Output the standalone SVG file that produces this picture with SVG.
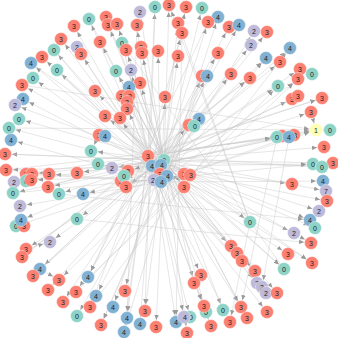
<svg xmlns="http://www.w3.org/2000/svg" width="338" height="338" viewBox="0 0 338 338">
<style>
.e line{stroke:#c6c6c6;stroke-width:0.45;fill:none;marker-end:url(#a)}
circle{stroke:#fff;stroke-width:0.4}
.r{fill:#fb8072}.t{fill:#8dd3c7}.b{fill:#80b1d3}.p{fill:#bebada}.y{fill:#ffffb3}
text{font-family:"Liberation Sans",Arial,sans-serif;font-size:7px;fill:#222;text-anchor:middle}
</style>
<defs>
<marker id="a" markerUnits="userSpaceOnUse" markerWidth="14" markerHeight="6" refX="12" refY="3" orient="auto"><path d="M0,0.8 L5,3 L0,5.2 z" fill="#9a9a9a"/></marker>
</defs>
<rect width="338" height="338" fill="#fff"/>
<g id="edges" class="e">
<line x1="148" y1="156" x2="89" y2="19"/><line x1="164" y1="160" x2="106" y2="17"/><line x1="148" y1="156" x2="74" y2="26"/><line x1="164" y1="160" x2="108" y2="25"/><line x1="148" y1="156" x2="61" y2="39"/><line x1="164" y1="160" x2="100" y2="42"/><line x1="152" y1="166" x2="77" y2="47"/><line x1="148" y1="156" x2="81" y2="54"/><line x1="152" y1="166" x2="54" y2="50"/><line x1="148" y1="156" x2="42" y2="57"/><line x1="152" y1="166" x2="31" y2="63"/><line x1="148" y1="156" x2="57" y2="70"/><line x1="152" y1="166" x2="33" y2="78"/><line x1="148" y1="156" x2="22" y2="85"/><line x1="164" y1="160" x2="95" y2="91"/><line x1="152" y1="166" x2="23" y2="99"/><line x1="148" y1="156" x2="15" y2="105"/>
<line x1="164" y1="160" x2="140" y2="12"/><line x1="148" y1="156" x2="155" y2="7"/><line x1="164" y1="160" x2="169" y2="5"/><line x1="152" y1="166" x2="186" y2="7"/><line x1="164" y1="160" x2="202" y2="8"/><line x1="167" y1="176" x2="218" y2="17"/><line x1="164" y1="160" x2="117" y2="24"/><line x1="152" y1="166" x2="137" y2="25"/><line x1="164" y1="160" x2="178" y2="23"/><line x1="148" y1="156" x2="182" y2="33"/><line x1="164" y1="160" x2="208" y2="22"/><line x1="152" y1="166" x2="122" y2="43"/><line x1="164" y1="160" x2="126" y2="50"/><line x1="167" y1="176" x2="141" y2="47"/><line x1="164" y1="160" x2="142" y2="53"/><line x1="161" y1="182" x2="158" y2="51"/><line x1="164" y1="160" x2="178" y2="56"/><line x1="152" y1="166" x2="218" y2="53"/><line x1="164" y1="160" x2="116" y2="71"/><line x1="148" y1="156" x2="131" y2="70"/><line x1="164" y1="160" x2="140" y2="83"/><line x1="152" y1="166" x2="129" y2="87"/><line x1="161" y1="182" x2="202" y2="76"/><line x1="164" y1="160" x2="207" y2="76"/><line x1="164" y1="160" x2="122" y2="96"/><line x1="152" y1="166" x2="129" y2="96"/><line x1="161" y1="182" x2="165" y2="97"/><line x1="148" y1="156" x2="127" y2="108"/><line x1="164" y1="160" x2="105" y2="116"/>
<line x1="152" y1="166" x2="229" y2="27"/><line x1="164" y1="160" x2="239" y2="25"/><line x1="161" y1="182" x2="254" y2="31"/><line x1="164" y1="160" x2="267" y2="32"/><line x1="152" y1="166" x2="251" y2="45"/><line x1="164" y1="160" x2="290" y2="48"/><line x1="161" y1="182" x2="266" y2="58"/><line x1="152" y1="166" x2="280" y2="62"/><line x1="164" y1="160" x2="231" y2="74"/><line x1="148" y1="156" x2="250" y2="78"/><line x1="164" y1="160" x2="300" y2="69"/><line x1="161" y1="182" x2="298" y2="79"/><line x1="164" y1="160" x2="278" y2="86"/><line x1="152" y1="166" x2="292" y2="99"/><line x1="164" y1="160" x2="298" y2="96"/><line x1="148" y1="156" x2="322" y2="98"/><line x1="164" y1="160" x2="311" y2="112"/>
<line x1="164" y1="160" x2="19" y2="119"/><line x1="152" y1="166" x2="9" y2="128"/><line x1="161" y1="182" x2="11" y2="140"/><line x1="164" y1="160" x2="5" y2="154"/><line x1="167" y1="176" x2="99" y2="135"/><line x1="164" y1="160" x2="91" y2="151"/><line x1="167" y1="176" x2="98" y2="164"/><line x1="164" y1="160" x2="112" y2="168"/><line x1="152" y1="166" x2="6" y2="170"/><line x1="161" y1="182" x2="26" y2="174"/><line x1="164" y1="160" x2="32" y2="174"/><line x1="167" y1="176" x2="31" y2="180"/><line x1="164" y1="160" x2="14" y2="182"/><line x1="161" y1="182" x2="49" y2="174"/><line x1="164" y1="160" x2="77" y2="173"/><line x1="152" y1="166" x2="48" y2="187"/><line x1="164" y1="160" x2="59" y2="194"/><line x1="167" y1="176" x2="83" y2="194"/><line x1="164" y1="160" x2="13" y2="193"/><line x1="161" y1="182" x2="20" y2="206"/><line x1="164" y1="160" x2="21" y2="220"/><line x1="167" y1="176" x2="16" y2="226"/><line x1="164" y1="160" x2="77" y2="219"/><line x1="161" y1="182" x2="120" y2="118"/><line x1="152" y1="166" x2="189" y2="125"/><line x1="161" y1="182" x2="199" y2="119"/><line x1="164" y1="160" x2="128" y2="171"/><line x1="164" y1="160" x2="121" y2="181"/><line x1="164" y1="160" x2="126" y2="187"/>
<line x1="152" y1="166" x2="316" y2="130"/><line x1="148" y1="156" x2="316" y2="130"/><line x1="161" y1="182" x2="316" y2="130"/><line x1="152" y1="166" x2="277" y2="137"/><line x1="148" y1="156" x2="282" y2="136"/><line x1="152" y1="166" x2="294" y2="135"/><line x1="161" y1="182" x2="289" y2="137"/><line x1="164" y1="160" x2="324" y2="147"/><line x1="152" y1="166" x2="313" y2="164"/><line x1="148" y1="156" x2="322" y2="167"/><line x1="164" y1="160" x2="333" y2="163"/><line x1="152" y1="166" x2="292" y2="184"/><line x1="161" y1="182" x2="323" y2="181"/><line x1="148" y1="156" x2="326" y2="191"/><line x1="152" y1="166" x2="327" y2="201"/><line x1="164" y1="160" x2="319" y2="211"/><line x1="148" y1="156" x2="310" y2="220"/><line x1="164" y1="160" x2="250" y2="222"/><line x1="161" y1="182" x2="184" y2="174"/><line x1="161" y1="182" x2="190" y2="175"/><line x1="164" y1="160" x2="184" y2="187"/>
<line x1="164" y1="160" x2="50" y2="242"/><line x1="164" y1="160" x2="26" y2="249"/><line x1="148" y1="156" x2="22" y2="257"/><line x1="152" y1="166" x2="40" y2="269"/><line x1="164" y1="160" x2="33" y2="276"/><line x1="167" y1="176" x2="59" y2="280"/><line x1="164" y1="160" x2="48" y2="290"/><line x1="148" y1="156" x2="88" y2="277"/><line x1="164" y1="160" x2="76" y2="292"/><line x1="152" y1="166" x2="63" y2="302"/><line x1="164" y1="160" x2="96" y2="296"/><line x1="148" y1="156" x2="90" y2="307"/><line x1="164" y1="160" x2="77" y2="316"/><line x1="167" y1="176" x2="101" y2="325"/><line x1="164" y1="160" x2="113" y2="307"/><line x1="152" y1="166" x2="125" y2="291"/><line x1="148" y1="156" x2="127" y2="318"/><line x1="164" y1="160" x2="145" y2="311"/><line x1="152" y1="166" x2="140" y2="324"/><line x1="148" y1="156" x2="124" y2="332"/><line x1="164" y1="160" x2="156" y2="327"/><line x1="152" y1="166" x2="176" y2="322"/>
<line x1="148" y1="156" x2="201" y2="275"/><line x1="164" y1="160" x2="194" y2="283"/><line x1="152" y1="166" x2="184" y2="317"/><line x1="148" y1="156" x2="190" y2="317"/><line x1="164" y1="160" x2="187" y2="333"/><line x1="152" y1="166" x2="204" y2="306"/><line x1="164" y1="160" x2="206" y2="312"/><line x1="148" y1="156" x2="211" y2="326"/><line x1="164" y1="160" x2="223" y2="310"/>
<line x1="152" y1="166" x2="294" y2="233"/><line x1="148" y1="156" x2="315" y2="228"/><line x1="164" y1="160" x2="311" y2="243"/><line x1="152" y1="166" x2="231" y2="246"/><line x1="148" y1="156" x2="237" y2="253"/><line x1="164" y1="160" x2="242" y2="261"/><line x1="152" y1="166" x2="288" y2="254"/><line x1="148" y1="156" x2="312" y2="263"/><line x1="164" y1="160" x2="284" y2="269"/><line x1="152" y1="166" x2="255" y2="271"/><line x1="148" y1="156" x2="257" y2="283"/><line x1="164" y1="160" x2="262" y2="287"/><line x1="152" y1="166" x2="266" y2="293"/><line x1="164" y1="160" x2="277" y2="293"/><line x1="148" y1="156" x2="241" y2="307"/><line x1="152" y1="166" x2="267" y2="312"/><line x1="164" y1="160" x2="247" y2="318"/><line x1="148" y1="156" x2="230" y2="322"/>
<line x1="13" y1="193" x2="313" y2="164"/><line x1="26" y1="174" x2="277" y2="137"/><line x1="57" y1="70" x2="284" y2="269"/><line x1="54" y1="50" x2="255" y2="271"/><line x1="31" y1="63" x2="312" y2="263"/><line x1="89" y1="19" x2="241" y2="307"/><line x1="22" y1="85" x2="316" y2="130"/><line x1="9" y1="128" x2="316" y2="130"/><line x1="5" y1="154" x2="322" y2="167"/><line x1="6" y1="170" x2="289" y2="137"/><line x1="48" y1="187" x2="322" y2="98"/><line x1="63" y1="302" x2="298" y2="79"/><line x1="33" y1="276" x2="266" y2="58"/><line x1="76" y1="292" x2="278" y2="86"/><line x1="90" y1="307" x2="290" y2="48"/><line x1="22" y1="257" x2="250" y2="78"/><line x1="250" y1="222" x2="178" y2="23"/><line x1="250" y1="222" x2="169" y2="5"/><line x1="284" y1="269" x2="122" y2="43"/><line x1="77" y1="219" x2="311" y2="243"/><line x1="59" y1="194" x2="310" y2="220"/><line x1="202" y1="76" x2="124" y2="332"/><line x1="218" y1="53" x2="101" y2="325"/><line x1="208" y1="22" x2="88" y2="277"/><line x1="182" y1="33" x2="176" y2="322"/><line x1="155" y1="7" x2="145" y2="311"/><line x1="137" y1="25" x2="127" y2="318"/><line x1="300" y1="69" x2="312" y2="74"/><line x1="330" y1="130" x2="316" y2="130"/><line x1="99" y1="135" x2="91" y2="151"/><line x1="257" y1="283" x2="277" y2="293"/><line x1="194" y1="283" x2="204" y2="306"/><line x1="311" y1="112" x2="316" y2="130"/><line x1="250" y1="222" x2="230" y2="322"/><line x1="26" y1="249" x2="50" y2="242"/><line x1="40" y1="269" x2="59" y2="280"/><line x1="277" y1="137" x2="241" y2="307"/><line x1="289" y1="137" x2="262" y2="287"/>
</g>
<g id="n1"><circle class="t" cx="89" cy="19" r="6.5"/><text x="89" y="21.5">0</text></g>
<g id="n2"><circle class="r" cx="106" cy="17" r="6.5"/><text x="106" y="19.5">3</text></g>
<g id="n3"><circle class="r" cx="74" cy="26" r="6.5"/><text x="74" y="28.5">3</text></g>
<g id="n4"><circle class="r" cx="108" cy="25" r="6.5"/><text x="108" y="27.5">3</text></g>
<g id="n5"><circle class="r" cx="61" cy="39" r="6.5"/><text x="61" y="41.5">3</text></g>
<g id="n6"><circle class="r" cx="100" cy="42" r="6.5"/><text x="100" y="44.5">3</text></g>
<g id="n7"><circle class="p" cx="77" cy="47" r="6.5"/><text x="77" y="49.5">2</text></g>
<g id="n8"><circle class="r" cx="81" cy="54" r="6.5"/><text x="81" y="56.5">3</text></g>
<g id="n9"><circle class="t" cx="54" cy="50" r="6.5"/><text x="54" y="52.5">0</text></g>
<g id="n10"><circle class="r" cx="42" cy="57" r="6.5"/><text x="42" y="59.5">3</text></g>
<g id="n11"><circle class="b" cx="31" cy="63" r="6.5"/><text x="31" y="65.5">4</text></g>
<g id="n12"><circle class="t" cx="57" cy="70" r="6.5"/><text x="57" y="72.5">0</text></g>
<g id="n13"><circle class="t" cx="33" cy="78" r="6.5"/><text x="33" y="80.5">0</text></g>
<g id="n14"><circle class="r" cx="22" cy="85" r="6.5"/><text x="22" y="87.5">3</text></g>
<g id="n15"><circle class="r" cx="95" cy="91" r="6.5"/><text x="95" y="93.5">3</text></g>
<g id="n16"><circle class="b" cx="23" cy="99" r="6.5"/><text x="23" y="101.5">4</text></g>
<g id="n17"><circle class="p" cx="15" cy="105" r="6.5"/><text x="15" y="107.5">2</text></g>
<g id="n18"><circle class="p" cx="140" cy="12" r="6.5"/><text x="140" y="14.5">2</text></g>
<g id="n19"><circle class="t" cx="155" cy="7" r="6.5"/><text x="155" y="9.5">0</text></g>
<g id="n20"><circle class="r" cx="169" cy="5" r="6.5"/><text x="169" y="7.5">3</text></g>
<g id="n21"><circle class="r" cx="186" cy="7" r="6.5"/><text x="186" y="9.5">3</text></g>
<g id="n22"><circle class="t" cx="202" cy="8" r="6.5"/><text x="202" y="10.5">0</text></g>
<g id="n23"><circle class="b" cx="218" cy="17" r="6.5"/><text x="218" y="19.5">4</text></g>
<g id="n24"><circle class="r" cx="117" cy="24" r="6.5"/><text x="117" y="26.5">3</text></g>
<g id="n25"><circle class="r" cx="137" cy="25" r="6.5"/><text x="137" y="27.5">3</text></g>
<g id="n26"><circle class="r" cx="178" cy="23" r="6.5"/><text x="178" y="25.5">3</text></g>
<g id="n27"><circle class="r" cx="182" cy="33" r="6.5"/><text x="182" y="35.5">3</text></g>
<g id="n28"><circle class="r" cx="208" cy="22" r="6.5"/><text x="208" y="24.5">3</text></g>
<g id="n29"><circle class="t" cx="122" cy="43" r="6.5"/><text x="122" y="45.5">0</text></g>
<g id="n30"><circle class="r" cx="126" cy="50" r="6.5"/><text x="126" y="52.5">3</text></g>
<g id="n31"><circle class="r" cx="141" cy="47" r="6.5"/><text x="141" y="49.5">3</text></g>
<g id="n32"><circle class="r" cx="142" cy="53" r="6.5"/><text x="142" y="55.5">3</text></g>
<g id="n33"><circle class="r" cx="158" cy="51" r="6.5"/><text x="158" y="53.5">3</text></g>
<g id="n34"><circle class="r" cx="178" cy="56" r="6.5"/><text x="178" y="58.5">3</text></g>
<g id="n35"><circle class="r" cx="218" cy="53" r="6.5"/><text x="218" y="55.5">3</text></g>
<g id="n36"><circle class="t" cx="116" cy="71" r="6.5"/><text x="116" y="73.5">0</text></g>
<g id="n37"><circle class="p" cx="131" cy="70" r="6.5"/><text x="131" y="72.5">2</text></g>
<g id="n38"><circle class="r" cx="140" cy="83" r="6.5"/><text x="140" y="85.5">3</text></g>
<g id="n39"><circle class="b" cx="129" cy="87" r="6.5"/><text x="129" y="89.5">4</text></g>
<g id="n40"><circle class="r" cx="202" cy="76" r="6.5"/><text x="202" y="78.5">3</text></g>
<g id="n41"><circle class="b" cx="207" cy="76" r="6.5"/><text x="208" y="78.5">4</text></g>
<g id="n42"><circle class="r" cx="122" cy="96" r="6.5"/><text x="121" y="98.5">3</text></g>
<g id="n43"><circle class="r" cx="129" cy="96" r="6.5"/><text x="130" y="98.5">3</text></g>
<g id="n44"><circle class="r" cx="127" cy="102" r="6.5"/><text x="127" y="105">3</text></g>
<g id="n45"><circle class="r" cx="165" cy="97" r="6.5"/><text x="165" y="99.5">3</text></g>
<g id="n46"><circle class="r" cx="127" cy="109" r="6.5"/><text x="127" y="111.5">3</text></g>
<g id="n47"><circle class="r" cx="105" cy="116" r="6.5"/><text x="105" y="118.5">3</text></g>
<g id="n48"><circle class="r" cx="229" cy="27" r="6.5"/><text x="229" y="29.5">3</text></g>
<g id="n49"><circle class="b" cx="239" cy="25" r="6.5"/><text x="239" y="27.5">4</text></g>
<g id="n50"><circle class="p" cx="254" cy="31" r="6.5"/><text x="254" y="33.5">2</text></g>
<g id="n51"><circle class="r" cx="267" cy="32" r="6.5"/><text x="267" y="34.5">3</text></g>
<g id="n52"><circle class="p" cx="251" cy="45" r="6.5"/><text x="251" y="47.5">2</text></g>
<g id="n53"><circle class="b" cx="290" cy="48" r="6.5"/><text x="290" y="50.5">4</text></g>
<g id="n54"><circle class="b" cx="266" cy="58" r="6.5"/><text x="266" y="60.5">4</text></g>
<g id="n55"><circle class="r" cx="280" cy="62" r="6.5"/><text x="280" y="64.5">3</text></g>
<g id="n56"><circle class="r" cx="231" cy="74" r="6.5"/><text x="231" y="76.5">3</text></g>
<g id="n57"><circle class="r" cx="250" cy="78" r="6.5"/><text x="250" y="80.5">3</text></g>
<g id="n58"><circle class="r" cx="300" cy="69" r="6.5"/><text x="300" y="71.5">3</text></g>
<g id="n59"><circle class="t" cx="312" cy="74" r="6.5"/><text x="312" y="76.5">0</text></g>
<g id="n60"><circle class="r" cx="298" cy="79" r="6.5"/><text x="298" y="81.5">3</text></g>
<g id="n61"><circle class="t" cx="278" cy="86" r="6.5"/><text x="278" y="88.5">0</text></g>
<g id="n62"><circle class="r" cx="292" cy="99" r="6.5"/><text x="292" y="101.5">3</text></g>
<g id="n63"><circle class="r" cx="298" cy="96" r="6.5"/><text x="298" y="98.5">3</text></g>
<g id="n64"><circle class="r" cx="322" cy="98" r="6.5"/><text x="322" y="100.5">3</text></g>
<g id="n65"><circle class="r" cx="311" cy="112" r="6.5"/><text x="311" y="114.5">3</text></g>
<g id="n66"><circle class="t" cx="19" cy="119" r="6.5"/><text x="19" y="121.5">0</text></g>
<g id="n67"><circle class="t" cx="9" cy="128" r="6.5"/><text x="9" y="130.5">0</text></g>
<g id="n68"><circle class="b" cx="11" cy="140" r="6.5"/><text x="11" y="142.5">4</text></g>
<g id="n69"><circle class="r" cx="5" cy="154" r="6.5"/><text x="5" y="156.5">3</text></g>
<g id="n70"><circle class="r" cx="99" cy="135" r="6.5"/><text x="99" y="137.5">3</text></g>
<g id="n71"><circle class="b" cx="105" cy="136" r="6.5"/><text x="105" y="138.5">4</text></g>
<g id="n72"><circle class="t" cx="91" cy="151" r="6.5"/><text x="91" y="153.5">0</text></g>
<g id="n73"><circle class="t" cx="98" cy="164" r="6.5"/><text x="98" y="166.5">0</text></g>
<g id="n74"><circle class="p" cx="112" cy="168" r="6.5"/><text x="112" y="170.5">2</text></g>
<g id="n75"><circle class="r" cx="6" cy="170" r="6.5"/><text x="6" y="172.5">3</text></g>
<g id="n76"><circle class="r" cx="26" cy="174" r="6.5"/><text x="26" y="176.5">3</text></g>
<g id="n77"><circle class="r" cx="32" cy="174" r="6.5"/><text x="32" y="176.5">3</text></g>
<g id="n79"><circle class="t" cx="26" cy="181" r="6.5"/><text x="26" y="183.5">0</text></g>
<g id="n78"><circle class="r" cx="31" cy="180" r="6.5"/><text x="32" y="182.5">3</text></g>
<g id="n80"><circle class="p" cx="14" cy="182" r="6.5"/><text x="14" y="184.5">2</text></g>
<g id="n81"><circle class="r" cx="49" cy="174" r="6.5"/><text x="49" y="176.5">3</text></g>
<g id="n82"><circle class="r" cx="77" cy="173" r="6.5"/><text x="77" y="175.5">3</text></g>
<g id="n83"><circle class="r" cx="48" cy="187" r="6.5"/><text x="48" y="189.5">3</text></g>
<g id="n84"><circle class="t" cx="59" cy="194" r="6.5"/><text x="59" y="196.5">0</text></g>
<g id="n85"><circle class="b" cx="83" cy="194" r="6.5"/><text x="83" y="196.5">4</text></g>
<g id="n86"><circle class="t" cx="13" cy="193" r="6.5"/><text x="13" y="195.5">0</text></g>
<g id="n87"><circle class="p" cx="20" cy="206" r="6.5"/><text x="20" y="208.5">2</text></g>
<g id="n89"><circle class="t" cx="16" cy="226" r="6.5"/><text x="16" y="228.5">0</text></g>
<g id="n90"><circle class="r" cx="24" cy="226" r="6.5"/><text x="24" y="228.5">3</text></g>
<g id="n88"><circle class="b" cx="21" cy="220" r="6.5"/><text x="21" y="222.5">4</text></g>
<g id="n91"><circle class="t" cx="77" cy="219" r="6.5"/><text x="77" y="221.5">0</text></g>
<g id="n92"><circle class="r" cx="120" cy="118" r="6.5"/><text x="120" y="120.5">3</text></g>
<g id="n93"><circle class="r" cx="189" cy="125" r="6.5"/><text x="189" y="127.5">3</text></g>
<g id="n95"><circle class="b" cx="199" cy="119" r="6.5"/><text x="199" y="121.5">4</text></g>
<g id="n94"><circle class="t" cx="194" cy="126" r="6.5"/><text x="195" y="128.5">0</text></g>
<g id="n96"><circle class="r" cx="148" cy="156" r="6.5"/><text x="148" y="158.5">3</text></g>
<g id="n97"><circle class="t" cx="164" cy="160" r="6.5"/><text x="164" y="162.5">0</text></g>
<g id="n99"><circle class="b" cx="152" cy="166" r="6.5"/><text x="152" y="168.5">4</text></g>
<g id="n98"><circle class="b" cx="161" cy="165" r="6.5"/><text x="162" y="167.5">4</text></g>
<g id="n100"><circle class="r" cx="160" cy="174" r="6.5"/><text x="160" y="176.5">3</text></g>
<g id="n101"><circle class="b" cx="167" cy="176" r="6.5"/><text x="168" y="178.5">4</text></g>
<g id="n102"><circle class="p" cx="154" cy="180" r="6.5"/><text x="153" y="182.5">2</text></g>
<g id="n103"><circle class="b" cx="161" cy="182" r="6.5"/><text x="162" y="184.5">4</text></g>
<g id="n104"><circle class="r" cx="184" cy="174" r="6.5"/><text x="184" y="176.5">3</text></g>
<g id="n105"><circle class="r" cx="190" cy="175" r="6.5"/><text x="191" y="177.5">3</text></g>
<g id="n106"><circle class="r" cx="184" cy="187" r="6.5"/><text x="184" y="189.5">3</text></g>
<g id="n107"><circle class="r" cx="128" cy="171" r="6.5"/><text x="128" y="173.5">3</text></g>
<g id="n109"><circle class="r" cx="121" cy="181" r="6.5"/><text x="121" y="183.5">3</text></g>
<g id="n108"><circle class="t" cx="124" cy="176" r="6.5"/><text x="124" y="178.5">0</text></g>
<g id="n110"><circle class="r" cx="126" cy="187" r="6.5"/><text x="126" y="189.5">3</text></g>
<g id="n111"><circle class="y" cx="316" cy="130" r="6.5"/><text x="316" y="132.5">1</text></g>
<g id="n112"><circle class="t" cx="330" cy="130" r="6.5"/><text x="330" y="132.5">0</text></g>
<g id="n114"><circle class="r" cx="282" cy="136" r="6.5"/><text x="283" y="138.5">3</text></g>
<g id="n113"><circle class="t" cx="277" cy="137" r="6.5"/><text x="277" y="139.5">0</text></g>
<g id="n115"><circle class="r" cx="294" cy="135" r="6.5"/><text x="295" y="137.5">3</text></g>
<g id="n116"><circle class="b" cx="289" cy="137" r="6.5"/><text x="289" y="139.5">4</text></g>
<g id="n117"><circle class="r" cx="324" cy="147" r="6.5"/><text x="324" y="149.5">3</text></g>
<g id="n120"><circle class="r" cx="333" cy="163" r="6.5"/><text x="333" y="165.5">3</text></g>
<g id="n118"><circle class="t" cx="313" cy="164" r="6.5"/><text x="313" y="166.5">0</text></g>
<g id="n119"><circle class="t" cx="322" cy="167" r="6.5"/><text x="322" y="169.5">0</text></g>
<g id="n121"><circle class="r" cx="292" cy="184" r="6.5"/><text x="292" y="186.5">3</text></g>
<g id="n122"><circle class="b" cx="323" cy="181" r="6.5"/><text x="323" y="183.5">4</text></g>
<g id="n123"><circle class="p" cx="326" cy="191" r="6.5"/><text x="326" y="193.5">7</text></g>
<g id="n124"><circle class="r" cx="327" cy="201" r="6.5"/><text x="327" y="203.5">3</text></g>
<g id="n125"><circle class="p" cx="319" cy="211" r="6.5"/><text x="319" y="213.5">2</text></g>
<g id="n126"><circle class="b" cx="310" cy="220" r="6.5"/><text x="310" y="222.5">4</text></g>
<g id="n127"><circle class="t" cx="250" cy="222" r="6.5"/><text x="250" y="224.5">0</text></g>
<g id="n128"><circle class="p" cx="50" cy="242" r="6.5"/><text x="50" y="244.5">2</text></g>
<g id="n129"><circle class="r" cx="26" cy="249" r="6.5"/><text x="26" y="251.5">3</text></g>
<g id="n130"><circle class="r" cx="22" cy="257" r="6.5"/><text x="22" y="259.5">3</text></g>
<g id="n131"><circle class="b" cx="40" cy="269" r="6.5"/><text x="40" y="271.5">4</text></g>
<g id="n132"><circle class="r" cx="33" cy="276" r="6.5"/><text x="33" y="278.5">3</text></g>
<g id="n133"><circle class="r" cx="59" cy="280" r="6.5"/><text x="59" y="282.5">3</text></g>
<g id="n134"><circle class="r" cx="48" cy="290" r="6.5"/><text x="48" y="292.5">3</text></g>
<g id="n135"><circle class="b" cx="88" cy="277" r="6.5"/><text x="88" y="279.5">4</text></g>
<g id="n136"><circle class="r" cx="76" cy="292" r="6.5"/><text x="76" y="294.5">3</text></g>
<g id="n137"><circle class="r" cx="63" cy="302" r="6.5"/><text x="63" y="304.5">3</text></g>
<g id="n138"><circle class="b" cx="96" cy="296" r="6.5"/><text x="96" y="298.5">4</text></g>
<g id="n139"><circle class="r" cx="90" cy="307" r="6.5"/><text x="90" y="309.5">3</text></g>
<g id="n140"><circle class="t" cx="77" cy="316" r="6.5"/><text x="77" y="318.5">0</text></g>
<g id="n141"><circle class="r" cx="101" cy="325" r="6.5"/><text x="101" y="327.5">3</text></g>
<g id="n142"><circle class="b" cx="113" cy="307" r="6.5"/><text x="113" y="309.5">4</text></g>
<g id="n143"><circle class="r" cx="125" cy="291" r="6.5"/><text x="125" y="293.5">3</text></g>
<g id="n144"><circle class="b" cx="127" cy="318" r="6.5"/><text x="127" y="320.5">4</text></g>
<g id="n145"><circle class="r" cx="145" cy="311" r="6.5"/><text x="145" y="313.5">3</text></g>
<g id="n146"><circle class="b" cx="140" cy="324" r="6.5"/><text x="140" y="326.5">4</text></g>
<g id="n147"><circle class="b" cx="124" cy="332" r="6.5"/><text x="124" y="334.5">4</text></g>
<g id="n148"><circle class="r" cx="156" cy="327" r="6.5"/><text x="156" y="329.5">3</text></g>
<g id="n149"><circle class="b" cx="176" cy="322" r="6.5"/><text x="176" y="324.5">4</text></g>
<g id="n150"><circle class="r" cx="201" cy="275" r="6.5"/><text x="201" y="277.5">3</text></g>
<g id="n151"><circle class="r" cx="194" cy="283" r="6.5"/><text x="194" y="285.5">3</text></g>
<g id="n153"><circle class="t" cx="190" cy="317" r="6.5"/><text x="191" y="319.5">0</text></g>
<g id="n152"><circle class="p" cx="184" cy="317" r="6.5"/><text x="185" y="319.5">4</text></g>
<g id="n154"><circle class="r" cx="187" cy="333" r="6.5"/><text x="187" y="335.5">3</text></g>
<g id="n156"><circle class="t" cx="206" cy="312" r="6.5"/><text x="206" y="314.5">0</text></g>
<g id="n155"><circle class="r" cx="204" cy="306" r="6.5"/><text x="204" y="308.5">3</text></g>
<g id="n157"><circle class="r" cx="211" cy="326" r="6.5"/><text x="211" y="328.5">3</text></g>
<g id="n158"><circle class="t" cx="223" cy="310" r="6.5"/><text x="223" y="312.5">0</text></g>
<g id="n159"><circle class="p" cx="294" cy="233" r="6.5"/><text x="294" y="235.5">2</text></g>
<g id="n160"><circle class="t" cx="315" cy="228" r="6.5"/><text x="315" y="230.5">0</text></g>
<g id="n161"><circle class="r" cx="311" cy="243" r="6.5"/><text x="311" y="245.5">3</text></g>
<g id="n162"><circle class="r" cx="231" cy="246" r="6.5"/><text x="231" y="248.5">3</text></g>
<g id="n163"><circle class="r" cx="237" cy="253" r="6.5"/><text x="237" y="255.5">3</text></g>
<g id="n164"><circle class="r" cx="242" cy="261" r="6.5"/><text x="242" y="263.5">3</text></g>
<g id="n165"><circle class="r" cx="288" cy="254" r="6.5"/><text x="288" y="256.5">3</text></g>
<g id="n166"><circle class="r" cx="312" cy="263" r="6.5"/><text x="312" y="265.5">3</text></g>
<g id="n167"><circle class="t" cx="284" cy="269" r="6.5"/><text x="284" y="271.5">0</text></g>
<g id="n168"><circle class="r" cx="255" cy="271" r="6.5"/><text x="255" y="273.5">3</text></g>
<g id="n169"><circle class="p" cx="257" cy="283" r="6.5"/><text x="257" y="285.5">7</text></g>
<g id="n170"><circle class="p" cx="262" cy="287" r="6.5"/><text x="262" y="289.5">2</text></g>
<g id="n171"><circle class="p" cx="266" cy="293" r="6.5"/><text x="266" y="295.5">2</text></g>
<g id="n172"><circle class="r" cx="277" cy="293" r="6.5"/><text x="277" y="295.5">3</text></g>
<g id="n173"><circle class="r" cx="241" cy="307" r="6.5"/><text x="241" y="309.5">3</text></g>
<g id="n174"><circle class="r" cx="267" cy="312" r="6.5"/><text x="267" y="314.5">3</text></g>
<g id="n175"><circle class="r" cx="247" cy="318" r="6.5"/><text x="247" y="320.5">3</text></g>
<g id="n176"><circle class="r" cx="230" cy="322" r="6.5"/><text x="230" y="324.5">3</text></g>
</svg>
